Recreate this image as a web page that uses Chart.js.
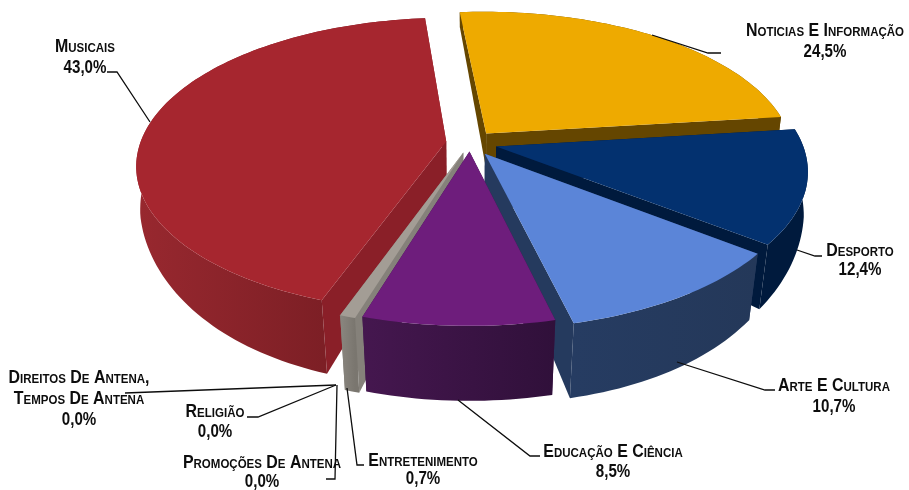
<!DOCTYPE html>
<html><head><meta charset="utf-8">
<style>html,body{margin:0;padding:0;background:#fff}canvas{display:block}</style>
<script src="https://cdn.jsdelivr.net/npm/chart.js@4"></script></head>
<body><canvas id="c" width="909" height="490"></canvas>
<script>
const categories=["Noticias E Informação","Desporto","Arte E Cultura","Educação E Ciência","Entretenimento","Promoções De Antena","Religião","Direitos De Antena, Tempos De Antena","Musicais"];
const values=[24.5,12.4,10.7,8.5,0.7,0.0,0.0,0.0,43.0];
const topColors=["#eeaa00","#03316f","#5b85d8","#6e1d7c","#a39d95","#888","#888","#888","#a6262f"];
const cutColors=["#654600","#001a3d","#253a5e","#3a1347","#85817a","#666","#666","#666","#8a1f28"];
const wallLeft=["#654600","#001a3d","#263c62","#45174f","#8a867f","#666","#666","#666","#98282f"];
const wallRight=["#654600","#001a3d","#243859","#30103a","#7a766f","#666","#666","#666","#6e1a20"];
const explode=[26,27,27,18,21,0,0,0,24];
const labelLines=[["Noticias E Informação","24,5%"],["Desporto","12,4%"],["Arte E Cultura","10,7%"],["Educação E Ciência","8,5%"],["Entretenimento","0,7%"],["Promoções De Antena","0,0%"],["Religião","0,0%"],["Direitos De Antena,","Tempos De Antena","0,0%"],["Musicais","43,0%"]];
const labelPos=[[825,31,21],[860,251,19],[834,386,21],[613,452,20],[423,461,18],[262,463,19],[215,412,20],[79,378,21],[85,47,21]];
const leaders=[[[652,35],[708,53],[721,53]],[[797,250],[815,256],[822,256]],[[677,362],[765,390],[775,390]],[[458,400],[530,456],[540,456]],[[347,388],[357,465],[364,465]],[[337,385],[335,479],[326,479]],[[336,385],[258,417],[247,417]],[[336,385],[125,393]],[[150,122],[117,72],[107,72]]];
const TILT=0.47, PERSP=0.158;
function ramp(y){const t=Math.min(1,Math.max(0,(y-12)/318));return t*t*(3-2*t);}
function project(a,u,v){const s=1/(1-PERSP*v/a.r);return [a.x+u*s,a.y+v*TILT*s];}
function drop(a,p){const t=ramp(p[1]);const lean=(t>0.5?0.012+0.05*(t-0.5):0.012);return [p[0]+(a.x-p[0])*lean,p[1]+15+60*t];}
function poly(ctx,pts,fill){ctx.beginPath();pts.forEach((p,i)=>i?ctx.lineTo(p[0],p[1]):ctx.moveTo(p[0],p[1]));ctx.closePath();ctx.fillStyle=fill;ctx.fill();}
const solidPie={id:'solidPie',
 beforeDatasetDraw(chart){
  const ctx=chart.ctx;
  const meta=chart.getDatasetMeta(0);
  const slices=meta.data.map((arc,i)=>{
    const g=arc.getProps(['x','y','startAngle','endAngle','outerRadius'],true);
    const off=arc.options.offset||0, mid=(g.startAngle+g.endAngle)/2;
    const a={x:g.x,y:g.y,r:g.outerRadius};
    const ou=Math.cos(mid)*off, ov=Math.sin(mid)*off;
    const n=Math.max(2,Math.ceil((g.endAngle-g.startAngle)*40));
    const rim=[];
    for(let k=0;k<=n;k++){const t=g.startAngle+(g.endAngle-g.startAngle)*k/n;
      rim.push(project(a,Math.cos(t)*g.outerRadius+ou,Math.sin(t)*g.outerRadius+ov));}
    return {i,a,rim,tip:project(a,ou,ov),size:g.endAngle-g.startAngle};
  }).filter(s=>s.size>0);
  slices.sort((p,q)=>{const c=s=>s.rim[s.rim.length>>1][1]+s.tip[1];return c(p)-c(q);});
  slices.forEach(s=>{
    const {a,rim,tip,i}=s;
    const tb=drop(a,tip), first=rim[0], last=rim[rim.length-1];
    poly(ctx,[tip,first,drop(a,first),tb],cutColors[i]);
    poly(ctx,[tip,last,drop(a,last),tb],cutColors[i]);
    const xs=rim.map(p=>p[0]), x0=Math.min(...xs), x1=Math.max(...xs);
    const grad=ctx.createLinearGradient(x0,0,Math.max(x1,x0+1),0);
    grad.addColorStop(0,wallLeft[i]);grad.addColorStop(1,wallRight[i]);
    poly(ctx,[...rim,...rim.map(p=>drop(a,p)).reverse()],grad);
  });
  slices.forEach(s=>poly(ctx,[s.tip,...s.rim],topColors[s.i]));
  return false;
 },
 afterDatasetsDraw(chart){
  const ctx=chart.ctx;
  ctx.save();
  ctx.fillStyle='#0d0d0d';ctx.textAlign='center';ctx.textBaseline='middle';
  ctx.font='small-caps bold 18px "Liberation Sans"';
  labelLines.forEach((lines,i)=>{const [x,y,h]=labelPos[i];lines.forEach((t,k)=>{
    const sx=t.endsWith('%')?0.84:0.885;
    ctx.save();ctx.translate(x,y+k*h);ctx.scale(sx,1);ctx.fillText(t,0,0);ctx.restore();
  });});
  ctx.strokeStyle='#0d0d0d';ctx.lineWidth=1.3;
  leaders.forEach(l=>{ctx.beginPath();l.forEach((p,k)=>k?ctx.lineTo(p[0],p[1]):ctx.moveTo(p[0],p[1]));ctx.stroke();});
  ctx.restore();
 }};
new Chart(document.getElementById('c'),{
 type:'pie',
 data:{labels:categories,datasets:[{data:values,backgroundColor:topColors,borderWidth:0,offset:explode}]},
 options:{responsive:false,animation:false,rotation:-5.3,radius:306,
  layout:{padding:{left:31,bottom:204}},
  events:[],plugins:{legend:{display:false},tooltip:{enabled:false},title:{display:false}}},
 plugins:[solidPie]
});
</script></body></html>
